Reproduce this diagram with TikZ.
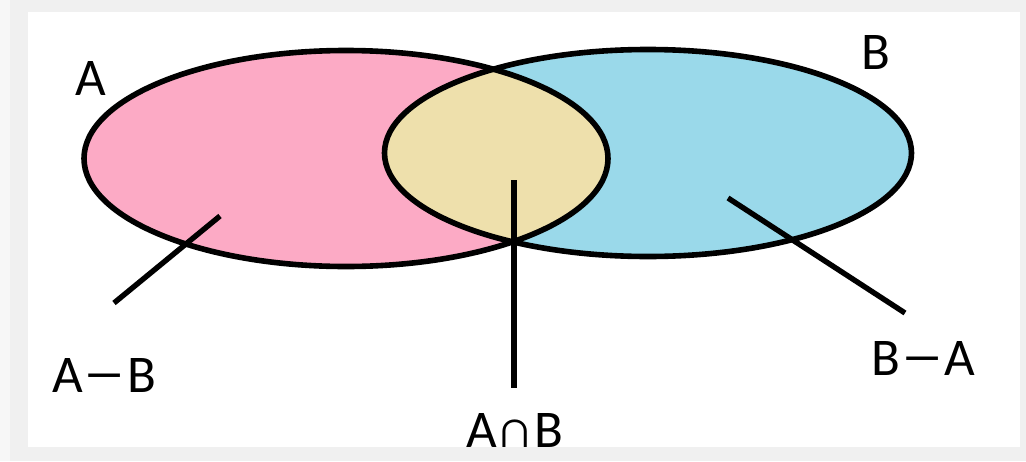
\documentclass[tikz,border=0pt]{standalone}
\usepackage{fontspec}
\usepackage{graphicx}
\setmainfont{Carlito}
\definecolor{bggray}{HTML}{F0F0F0}
\definecolor{edgegray}{HTML}{F7F7F7}
\definecolor{setpink}{HTML}{FCAAC5}
\definecolor{setblue}{HTML}{9AD9EA}
\definecolor{setyellow}{HTML}{EEE0AC}
\newcommand{\longminus}{\kern1pt\scalebox{1.6}[1]{−}\kern1pt}
\tikzset{
  setline/.style={draw=black, line width=5.6pt},
  leader/.style={draw=black, line width=5.4pt},
  lbl/.style={inner sep=0pt, anchor=base west, font=\fontsize{53}{60}\selectfont},
}
\begin{document}
\begin{tikzpicture}[x=1pt, y=-1pt]
\useasboundingbox (0,0) rectangle (1026,461);
\fill[bggray] (0,0) rectangle (1026,461);
\fill[edgegray] (0,0) rectangle (10,461);
\fill[white] (28,12) rectangle (1020,447);
% sets
\fill[setpink] (346,158.5) ellipse [x radius=262pt, y radius=108pt];
\fill[setblue] (648,153) ellipse [x radius=263.5pt, y radius=103.5pt];
\begin{scope}
  \clip (346,158.5) ellipse [x radius=262pt, y radius=108pt];
  \fill[setyellow] (648,153) ellipse [x radius=263.5pt, y radius=103.5pt];
\end{scope}
\draw[setline] (346,158.5) ellipse [x radius=262pt, y radius=108pt];
\draw[setline] (648,153) ellipse [x radius=263.5pt, y radius=103.5pt];
% labels
\node[lbl] (la) at (75,95) {A};
\node[lbl] (lb) at (861,69) {B};
\node[lbl] (lamb) at (52,392) {A\longminus B};
\node[lbl] (lbma) at (871,375) {B\longminus A};
\node[lbl] (lab) at (466,447) {A∩B};
% leaders
\coordinate (amb1) at (220,216);
\coordinate (amb2) at (114,303);
\coordinate (bma1) at (728,198);
\coordinate (bma2) at (905,313);
\coordinate (ab1) at (514,180);
\coordinate (ab2) at (514,388);
\draw[leader] (amb1) -- (amb2);
\draw[leader] (bma1) -- (bma2);
\draw[leader] (ab1) -- (ab2);
\end{tikzpicture}
\end{document}
